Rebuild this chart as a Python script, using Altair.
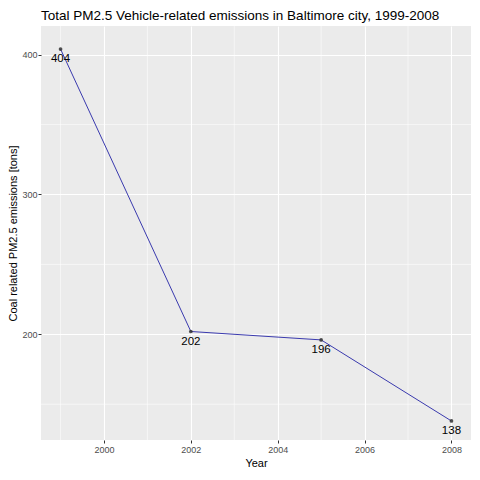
import pandas as pd
import altair as alt

# PM2.5 motor-vehicle emissions, Baltimore city (tons)
years = [1999, 2002, 2005, 2008]
emissions = [404, 202, 196, 138]
labels = ["404", "202", "196", "138"]

x_major = [2000, 2002, 2004, 2006, 2008]
x_minor = [1999, 2001, 2003, 2005, 2007]
y_major = [200, 300, 400]
y_minor = [150, 250, 350]

_PANEL = "#EBEBEB"
_LINE = "#3A3AAE"
_FONT = "Liberation Sans"
X_TITLE = "Year"
Y_TITLE = "Coal related PM2.5 emissions [tons]"

df = pd.DataFrame({"year": years, "tons": emissions, "label": labels})
xs = alt.Scale(domain=[1998.55, 2008.45], nice=False, zero=False)
ys = alt.Scale(domain=[124.4, 420.5], nice=False, zero=False)

x_ax = alt.Axis(values=x_major, format="d", grid=True, gridColor="white", gridWidth=1.1,
                domain=False, tickColor="#333333", tickSize=3, labelColor="#4D4D4D",
                labelFontSize=9, labelPadding=2, titleFontSize=11, titleColor="black",
                titleFontWeight="normal", titlePadding=3, labelFont=_FONT, titleFont=_FONT)
y_ax = alt.Axis(values=y_major, grid=True, gridColor="white", gridWidth=1.1,
                domain=False, tickColor="#333333", tickSize=3, labelColor="#4D4D4D",
                labelFontSize=9, labelPadding=1, titleFontSize=11, titleColor="black",
                titleFontWeight="normal", titlePadding=3, labelFont=_FONT, titleFont=_FONT)

# thin white minor gridlines, as in ggplot's grey theme
vminor = alt.Chart(pd.DataFrame({"year": x_minor})).mark_rule(
    color="white", strokeWidth=0.55).encode(
    x=alt.X("year:Q", title=X_TITLE, scale=xs, axis=x_ax))
hminor = alt.Chart(pd.DataFrame({"tons": y_minor})).mark_rule(
    color="white", strokeWidth=0.55).encode(
    y=alt.Y("tons:Q", title=Y_TITLE, scale=ys, axis=y_ax))

base = alt.Chart(df).encode(
    x=alt.X("year:Q", title=X_TITLE, scale=xs, axis=x_ax),
    y=alt.Y("tons:Q", title=Y_TITLE, scale=ys, axis=y_ax),
)
line = base.mark_line(color=_LINE, strokeWidth=1)
pts = base.mark_circle(size=14, color="#333333", opacity=0.85)
txt = base.mark_text(dy=10, fontSize=11.5, color="black", font=_FONT).encode(
    text="label:N")

chart = alt.layer(vminor, hminor, line, pts, txt).properties(
    width=430, height=414,
    autosize="none",
    padding={"left": 33, "top": 18, "right": 1, "bottom": 32},
    title=alt.TitleParams("Total PM2.5 Vehicle-related emissions in Baltimore city, 1999-2008",
                          anchor="start", frame="group", fontSize=13.5, fontWeight="normal",
                          font=_FONT, color="black", offset=3),
).configure_view(fill=_PANEL, stroke=None)

chart.save("out.html", embed_options={"renderer": "svg", "actions": False})
